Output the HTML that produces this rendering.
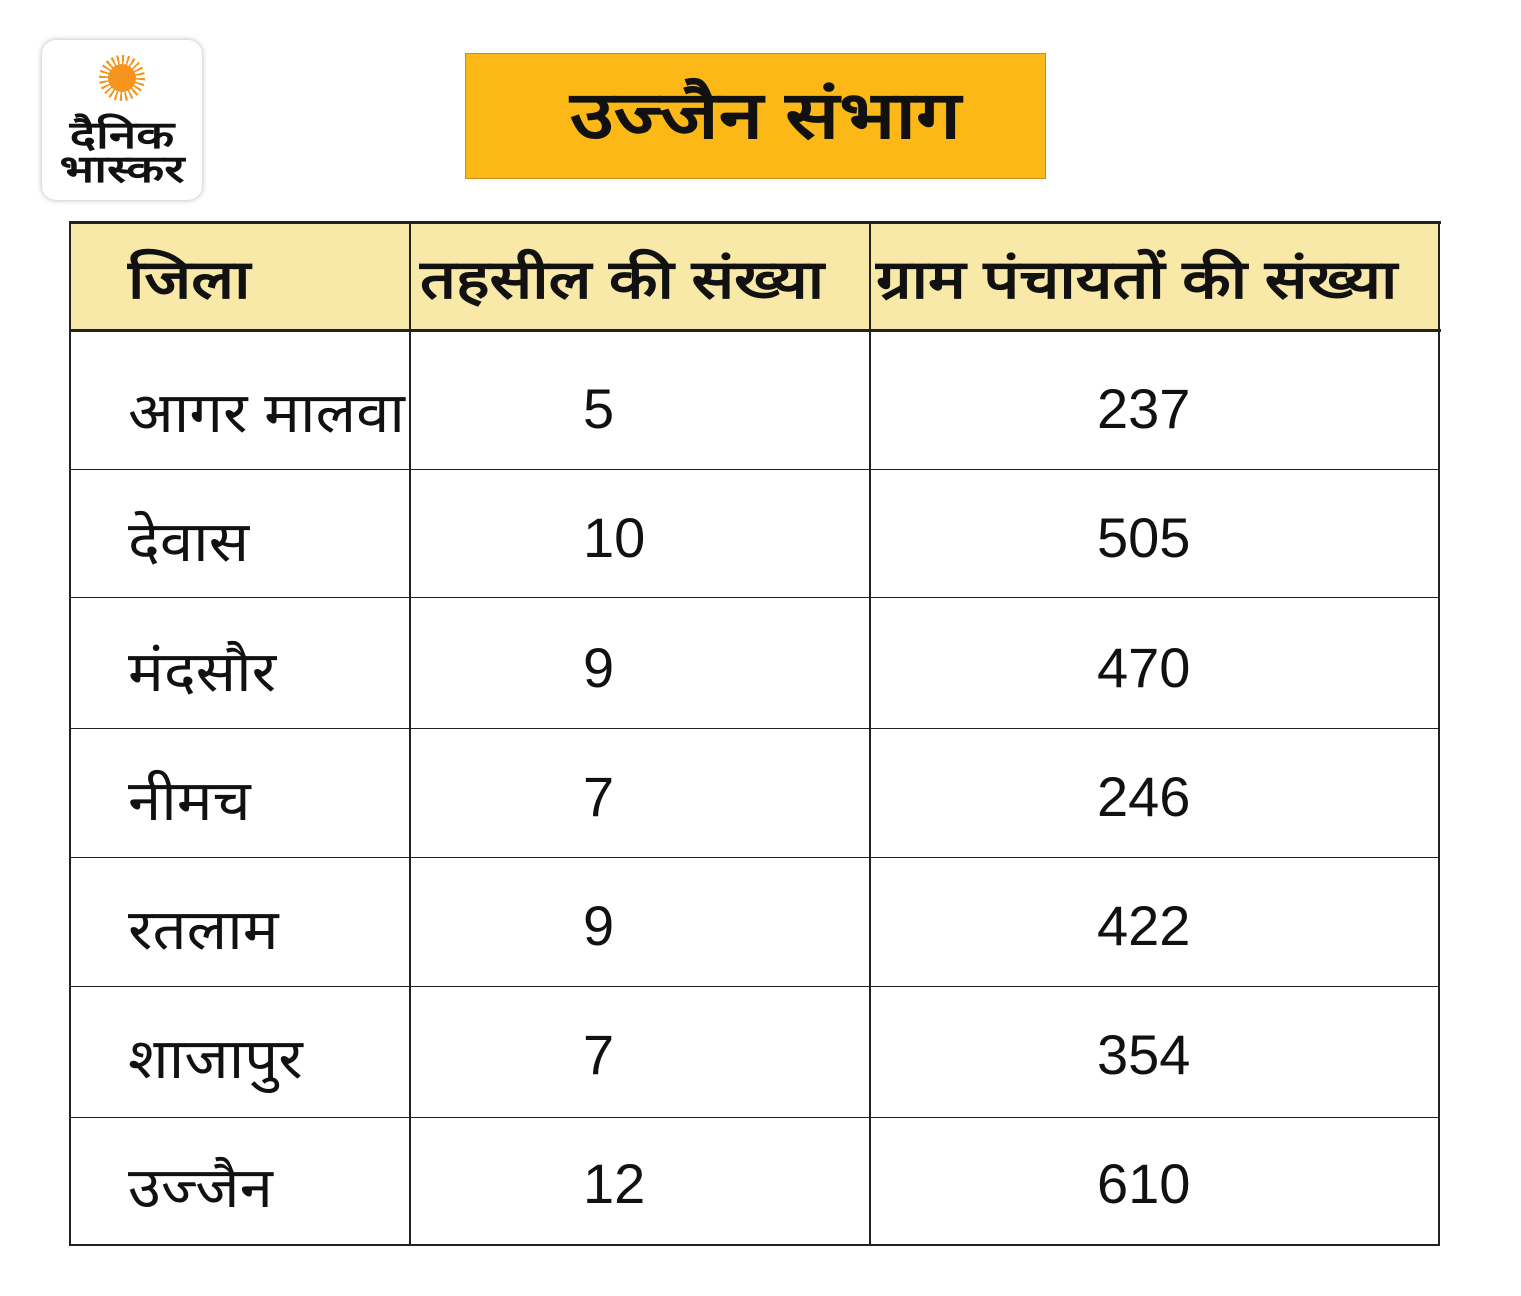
<!DOCTYPE html>
<html><head><meta charset="utf-8"><style>
body{margin:0;width:1521px;height:1296px;background:#fff;position:relative;overflow:hidden;font-family:"Liberation Sans",sans-serif;}
.logo{position:absolute;left:42px;top:40px;width:160px;height:160px;border-radius:14px;background:#fff;box-shadow:0 0 6px rgba(0,0,0,.3);}
.sun{position:absolute;left:99px;top:55px;width:46px;height:46px;border-radius:50%;background:repeating-conic-gradient(#f7941d 0 6deg,transparent 6deg 15deg);}
.sun2{position:absolute;left:108px;top:64px;width:28px;height:28px;border-radius:50%;background:#f7941d;}
.lt{position:absolute;left:42px;width:160px;text-align:center;font-weight:900;color:#111;font-size:38px;line-height:36px;transform:scaleX(1.3);}
.title{position:absolute;left:465px;top:53px;width:579px;height:124px;background:#fbb817;border:1px solid #c9901a;}
.tt{position:absolute;left:570px;top:53px;font-weight:bold;font-size:66px;line-height:124px;color:#111;transform:scaleX(1.21);transform-origin:left;white-space:nowrap;}
.c{position:absolute;font-size:56px;color:#111;white-space:nowrap;}
.n{transform:scaleX(1.07);transform-origin:left;}
.h{font-weight:bold;font-size:54px;transform:scaleX(1.17);transform-origin:left;top:240px;}
.ln{position:absolute;background:#222;}
</style></head><body>
<div class="logo"></div><div class="sun"></div><div class="sun2"></div>
<div class="lt" style="top:118px">दैनिक</div>
<div class="lt" style="top:152px">भास्कर</div>
<div class="title"></div><div class="tt">उज्जैन संभाग</div>
<div style="position:absolute;left:70px;top:222px;width:1370px;height:109px;background:#f9e9a8"></div>
<div class="ln" style="left:69px;top:221px;width:1372px;height:3px"></div>
<div class="ln" style="left:69px;top:329px;width:1372px;height:3px"></div>
<div class="ln" style="left:69px;top:469px;width:1370px;height:1px"></div>
<div class="ln" style="left:69px;top:597px;width:1370px;height:1px"></div>
<div class="ln" style="left:69px;top:728px;width:1370px;height:1px"></div>
<div class="ln" style="left:69px;top:857px;width:1370px;height:1px"></div>
<div class="ln" style="left:69px;top:986px;width:1370px;height:1px"></div>
<div class="ln" style="left:69px;top:1117px;width:1370px;height:1px"></div>
<div class="ln" style="left:69px;top:1244px;width:1371px;height:2px"></div>
<div class="ln" style="left:69px;top:221px;width:2px;height:1025px"></div>
<div class="ln" style="left:409px;top:221px;width:2px;height:1023px"></div>
<div class="ln" style="left:869px;top:221px;width:2px;height:1023px"></div>
<div class="ln" style="left:1438px;top:221px;width:2px;height:1025px"></div>
<div class="c h" style="left:128px">जिला</div>
<div class="c h" style="left:420px">तहसील की संख्या</div>
<div class="c h" style="left:876px">ग्राम पंचायतों की संख्या</div>

<div class="c n" style="left:128px;top:373px">आगर मालवा</div><div class="c" style="left:583px;top:376px">5</div><div class="c" style="left:1097px;top:376px">237</div>
<div class="c n" style="left:128px;top:502px">देवास</div><div class="c" style="left:583px;top:505px">10</div><div class="c" style="left:1097px;top:505px">505</div>
<div class="c n" style="left:128px;top:632px">मंदसौर</div><div class="c" style="left:583px;top:635px">9</div><div class="c" style="left:1097px;top:635px">470</div>
<div class="c n" style="left:128px;top:761px">नीमच</div><div class="c" style="left:583px;top:764px">7</div><div class="c" style="left:1097px;top:764px">246</div>
<div class="c n" style="left:128px;top:890px">रतलाम</div><div class="c" style="left:583px;top:893px">9</div><div class="c" style="left:1097px;top:893px">422</div>
<div class="c n" style="left:128px;top:1019px">शाजापुर</div><div class="c" style="left:583px;top:1022px">7</div><div class="c" style="left:1097px;top:1022px">354</div>
<div class="c n" style="left:128px;top:1148px">उज्जैन</div><div class="c" style="left:583px;top:1151px">12</div><div class="c" style="left:1097px;top:1151px">610</div>
</body></html>
